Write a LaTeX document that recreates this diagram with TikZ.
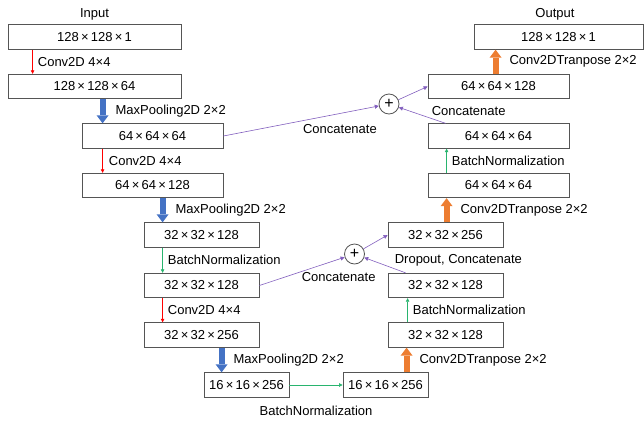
\documentclass[tikz,border=0pt]{standalone}
\usepackage{fontspec}
\setmainfont{Liberation Sans}
\usetikzlibrary{arrows.meta, positioning, calc}

\definecolor{poolblue}{HTML}{4472C4}
\definecolor{uporange}{HTML}{ED7D31}
\definecolor{bngreen}{RGB}{40,180,110}
\definecolor{catpurple}{RGB}{130,95,190}
\definecolor{boxgray}{RGB}{85,85,85}

\newcommand{\tms}{\hspace{2.2pt}×\hspace{2.2pt}}

\tikzset{
  blk/.style={draw=boxgray, line width=0.8pt, minimum height=24.5pt, inner sep=0pt,
    font=\fontsize{13}{15}\selectfont},
  lbl/.style={font=\fontsize{13}{15}\selectfont, inner sep=0pt, text=black},
  conv/.style={red, line width=0.6pt, -{Triangle[length=3.5pt,width=3.5pt]}},
  bnorm/.style={bngreen, line width=0.6pt, -{Triangle[length=3.5pt,width=3.5pt]}},
  pool/.style={poolblue, line width=6pt, -{Triangle[length=8pt,width=12pt,line width=0pt]}},
  upconv/.style={uporange, line width=6pt, -{Triangle[length=8pt,width=12pt,line width=0pt]}},
  cat/.style={catpurple, line width=0.6pt, -{Triangle[length=4pt,width=4pt]}},
  plus/.style={circle, draw=boxgray, line width=0.8pt, minimum size=20pt, inner sep=0pt,
    font=\fontsize{16}{16}\selectfont}
}

\begin{document}
\begin{tikzpicture}[x=1pt, y=-1pt]
\useasboundingbox (0,0) rectangle (644,420);

% encoder
\node[blk, minimum width=173pt] (in) at (94.5,37) {128\tms128\tms1};
\node[blk, minimum width=173pt] (b2) at (94.5,86.5) {128\tms128\tms64};
\node[blk, minimum width=141pt] (b3) at (152.5,136) {64\tms64\tms64};
\node[blk, minimum width=141pt] (b4) at (152.5,185.5) {64\tms64\tms128};
\node[blk, minimum width=115pt] (b5) at (201.5,235) {32\tms32\tms128};
\node[blk, minimum width=115pt] (b6) at (201.5,285.5) {32\tms32\tms128};
\node[blk, minimum width=115pt] (b7) at (201.5,335) {32\tms32\tms256};
\node[blk, minimum width=85pt] (b8) at (246.5,385) {16\tms16\tms256};

% decoder
\node[blk, minimum width=85pt] (b9) at (385.5,385) {16\tms16\tms256};
\node[blk, minimum width=115pt] (b10) at (445.5,335) {32\tms32\tms128};
\node[blk, minimum width=115pt] (b11) at (445.5,285.5) {32\tms32\tms128};
\node[blk, minimum width=115pt] (b12) at (445.5,235) {32\tms32\tms256};
\node[blk, minimum width=141pt] (b13) at (498.5,185.5) {64\tms64\tms64};
\node[blk, minimum width=141pt] (b14) at (498.5,136) {64\tms64\tms64};
\node[blk, minimum width=141pt] (b15) at (498.5,86.5) {64\tms64\tms128};
\node[blk, minimum width=169pt] (out) at (558.5,37) {128\tms128\tms1};

\node[plus] (c1) at (389,104) {+};
\node[plus] (c2) at (354.5,254) {+};

\node[lbl, above=4pt of in] (inlbl) {Input};
\node[lbl, above=4pt of out, xshift=-3.5pt] (outlbl) {Output};

% down path
\draw[conv] ($(in.south west)+(25,0)$) -- node[lbl, midway, right=5pt] (l1) {Conv2D 4×4} ($(b2.north west)+(25,0)$);
\draw[pool] ($(b2.south west)+(95,0)$) -- node[lbl, midway, right=10pt] (l2) {MaxPooling2D 2×2} ($(b3.north west)+(21,0)$);
\draw[conv] ($(b3.south west)+(21,0)$) -- node[lbl, midway, right=6pt] (l3) {Conv2D 4×4} ($(b4.north west)+(21,0)$);
\draw[pool] ($(b4.south west)+(81,0)$) -- node[lbl, midway, right=10pt] (l4) {MaxPooling2D 2×2} ($(b5.north west)+(19,0)$);
\draw[bnorm] ($(b5.south west)+(19,0)$) -- node[lbl, midway, right=5pt] (l5) {BatchNormalization} ($(b6.north west)+(19,0)$);
\draw[conv] ($(b6.south west)+(19,0)$) -- node[lbl, midway, right=5pt] (l6) {Conv2D 4×4} ($(b7.north west)+(19,0)$);
\draw[pool] ($(b7.south west)+(78,0)$) -- node[lbl, midway, right=9pt] (l7) {MaxPooling2D 2×2} ($(b8.north west)+(18,0)$);
\draw[bnorm] (b8.east) -- node[lbl, midway, below=21pt] (l8) {BatchNormalization} (b9.west);

% up path
\draw[upconv] ($(b9.north west)+(64,0)$) -- node[lbl, midway, right=10pt] (l9) {Conv2DTranpose 2×2} ($(b10.south west)+(19,0)$);
\draw[bnorm] ($(b10.north west)+(20,0)$) -- node[lbl, midway, right=5pt] (l10) {BatchNormalization} ($(b11.south west)+(20,0)$);
\draw[upconv] ($(b12.north west)+(59,0)$) -- node[lbl, midway, right=11pt] (l13) {Conv2DTranpose 2×2} ($(b13.south west)+(19,0)$);
\draw[bnorm] ($(b13.north west)+(19,0)$) -- node[lbl, midway, right=5pt] (l14) {BatchNormalization} ($(b14.south west)+(19,0)$);
\draw[upconv] ($(b15.north west)+(68,0)$) -- node[lbl, midway, right=11pt] (l17) {Conv2DTranpose 2×2} ($(out.south west)+(22,0)$);

% skip connections
\draw[cat] (b3.east) -- node[lbl, pos=.75, below=11pt] (l16) {Concatenate} (c1);
\draw[cat] ($(b14.north west)+(18,0)$) -- (c1);
\draw[cat] (c1) -- (b15.west);
\node[lbl, anchor=west] (l15) at ($(b14.north west)+(4,-12.5)$) {Concatenate};

\draw[cat] (b6.east) -- node[lbl, pos=.93, below=13pt] (l12) {Concatenate} (c2);
\draw[cat] ($(b11.north west)+(18,0)$) -- (c2);
\draw[cat] (c2) -- (b12.west);
\node[lbl, anchor=west] (l11) at ($(b11.north west)+(7,-12.5)$) {Dropout, Concatenate};
\end{tikzpicture}
\end{document}
